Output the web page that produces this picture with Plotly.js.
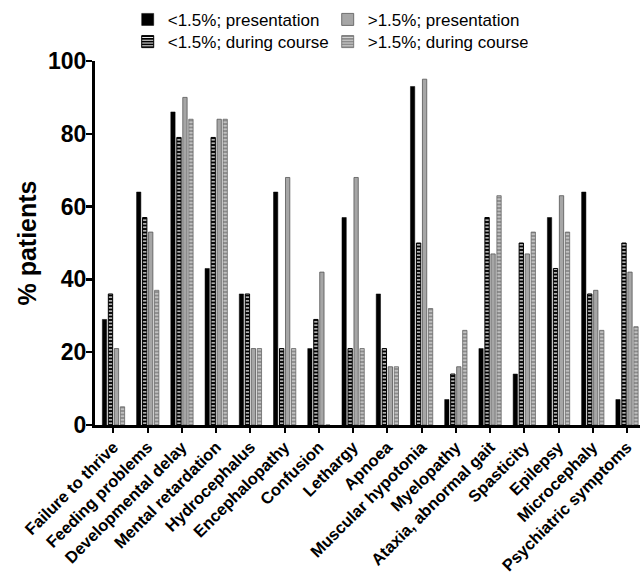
<!DOCTYPE html>
<html>
<head>
<meta charset="utf-8">
<script src="https://cdn.plot.ly/plotly-3.0.1.min.js"></script>
<style>html,body{margin:0;padding:0;background:#fff;}#chart{width:640px;height:577px;}</style>
</head>
<body>
<div id="chart"></div>
<script>
const categories = ["Failure to thrive","Feeding problems","Developmental delay","Mental retardation","Hydrocephalus","Encephalopathy","Confusion","Lethargy","Apnoea","Muscular hypotonia","Myelopathy","Ataxia, abnormal gait","Spasticity","Epilepsy","Microcephaly","Psychiatric symptoms"];
const lowPresentation  = [29,64,86,43,36,64,21,57,36,93,7,21,14,57,64,7];
const lowDuring        = [36,57,79,79,36,21,29,21,21,50,14,57,50,43,36,50];
const highPresentation = [21,53,90,84,21,68,42,68,16,95,16,47,47,63,37,42];
const highDuring       = [5,37,84,84,21,21,0,21,16,32,26,63,53,53,26,27];
const seriesNames = ["<1.5%; presentation","<1.5%; during course",">1.5%; presentation",">1.5%; during course"];

const FONT = "Liberation Sans, Arial, sans-serif";

const traces = [
  {type:'bar', x:categories, y:lowPresentation, name:seriesNames[0], legend:'legend',
   marker:{color:'#000', line:{color:'#000', width:0.5}}},
  {type:'bar', x:categories, y:lowDuring, name:seriesNames[1], legend:'legend2',
   marker:{color:'#000', line:{color:'#000', width:1},
     pattern:{shape:'-', fgcolor:'#fff', bgcolor:'#000', size:3.5, solidity:0.35}}},
  {type:'bar', x:categories, y:highPresentation, name:seriesNames[2], legend:'legend',
   marker:{color:'#a6a6a6', line:{color:'#555', width:0.8}}},
  {type:'bar', x:categories, y:highDuring, name:seriesNames[3], legend:'legend2',
   marker:{color:'#999', line:{color:'#666', width:0.8},
     pattern:{shape:'-', fgcolor:'#d8d8d8', bgcolor:'#8c8c8c', size:3.5, solidity:0.35}}}
];

const legendCommon = {orientation:'h', xref:'paper', yref:'paper', x:0.06, xanchor:'left', yanchor:'middle',
  font:{family:FONT, size:17, color:'#000'}, bgcolor:'rgba(0,0,0,0)', entrywidth:155, entrywidthmode:'pixels',
  tracegroupgap:0, itemclick:false};

const layout = {
  width:640, height:577,
  margin:{l:95, r:0, t:61, b:152, pad:0},
  paper_bgcolor:'#fff', plot_bgcolor:'#fff',
  barmode:'group', bargap:0.3, bargroupgap:0.28,
  font:{family:FONT, color:'#000'},
  showlegend:true,
  legend:Object.assign({}, legendCommon, {y:1.113}),
  legend2:Object.assign({}, legendCommon, {y:1.052}),
  xaxis:{type:'category', range:[-0.54,15.38], showline:true, linewidth:3, linecolor:'#000',
    ticks:'outside', ticklen:5, tickwidth:2, tickcolor:'#000', tickangle:-45, ticklabelstandoff:-2,
    tickfont:{family:FONT, size:16.5, weight:'bold', color:'#000'}, showgrid:false, zeroline:false},
  yaxis:{range:[0,100], dtick:20, showline:true, linewidth:3, linecolor:'#000',
    ticks:'outside', ticklen:6, tickwidth:2.5, tickcolor:'#000', ticklabelstandoff:-5,
    tickfont:{family:FONT, size:23, weight:'bold', color:'#000'}, showgrid:false, zeroline:false,
    title:{text:'% patients', font:{family:FONT, size:25, weight:'bold', color:'#000'}, standoff:5}}
};

Plotly.newPlot('chart', traces, layout, {displayModeBar:false, staticPlot:true});
</script>
</body>
</html>
